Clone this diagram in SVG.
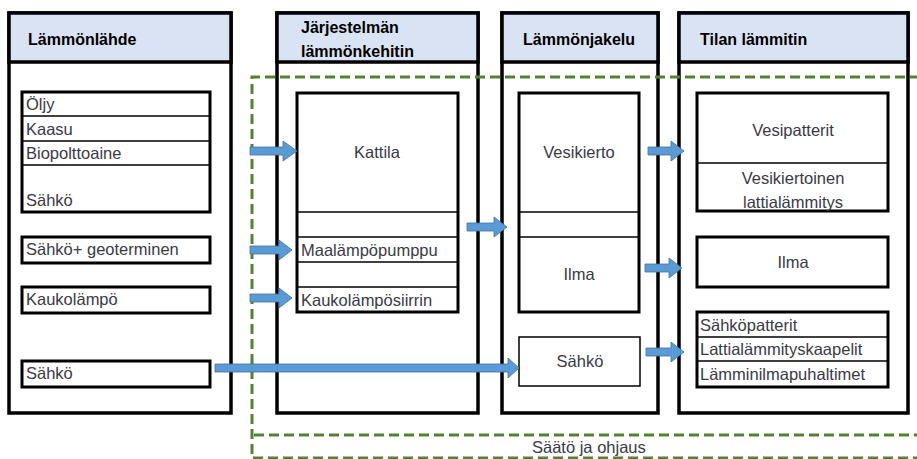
<svg xmlns="http://www.w3.org/2000/svg" width="917" height="459" viewBox="0 0 917 459">
<defs>
<style>
.col{fill:#ffffff;stroke:#000;stroke-width:3.5}
.hdr{fill:#dae3f3;stroke:#000;stroke-width:3.5}
.box{fill:#ffffff;stroke:#000;stroke-width:3}
.thin{fill:#ffffff;stroke:#000;stroke-width:1.5}
.div{stroke:#000;stroke-width:1.5;fill:none}
.h{font-family:"Liberation Sans",Arial,sans-serif;font-weight:bold;font-size:16px;fill:#000}
.t{font-family:"Liberation Sans",Arial,sans-serif;font-size:16.5px;fill:#3a3a44}
.c{text-anchor:middle}
.green{fill:none;stroke:#548235;stroke-width:3;stroke-dasharray:10 5}
.arr{fill:#5b9bd5;stroke:#41719c;stroke-width:0.8}
</style>
</defs>
<rect x="0" y="0" width="917" height="459" fill="#ffffff"/>

<g id="col1">
<rect class="col" x="9" y="13" width="222" height="400"/>
<rect class="hdr" x="9" y="13" width="222" height="49"/>
<text class="h" x="28" y="45">Lämmönlähde</text>
</g>
<g id="col2">
<rect class="col" x="277" y="13" width="201" height="400"/>
<rect class="hdr" x="277" y="13" width="201" height="49"/>
<text class="h" x="301" y="33">Järjestelmän</text>
<text class="h" x="301" y="57">lämmönkehitin</text>
</g>
<g id="col3">
<rect class="col" x="502" y="13" width="156" height="400"/>
<rect class="hdr" x="502" y="13" width="156" height="49"/>
<text class="h" x="523" y="45">Lämmönjakelu</text>
</g>
<g id="col4">
<rect class="col" x="679" y="13" width="229" height="400"/>
<rect class="hdr" x="679" y="13" width="229" height="49"/>
<text class="h" x="700" y="45">Tilan lämmitin</text>
</g>

<g id="fuels">
<rect class="box" x="22" y="92" width="188" height="120"/>
<line class="div" x1="22" y1="116" x2="210" y2="116"/>
<line class="div" x1="22" y1="141" x2="210" y2="141"/>
<line class="div" x1="22" y1="165" x2="210" y2="165"/>
<text class="t" x="26" y="110">Öljy</text>
<text class="t" x="26" y="135">Kaasu</text>
<text class="t" x="26" y="159">Biopolttoaine</text>
<text class="t" x="26" y="206">Sähkö</text>
</g>
<g id="geo">
<rect class="box" x="22" y="237" width="188" height="26"/>
<text class="t" x="26" y="255">Sähkö+ geoterminen</text>
</g>
<g id="kauko">
<rect class="box" x="22" y="287" width="188" height="26"/>
<text class="t" x="26" y="305">Kaukolämpö</text>
</g>
<g id="sahko1">
<rect class="box" x="22" y="361" width="188" height="26"/>
<text class="t" x="26" y="379">Sähkö</text>
</g>

<g id="generators">
<rect class="box" x="297" y="93" width="161" height="219"/>
<line class="div" x1="297" y1="212" x2="458" y2="212"/>
<line class="div" x1="297" y1="237" x2="458" y2="237"/>
<line class="div" x1="297" y1="262" x2="458" y2="262"/>
<line class="div" x1="297" y1="287" x2="458" y2="287"/>
<text class="t c" x="377" y="158">Kattila</text>
<text class="t" x="301" y="256">Maalämpöpumppu</text>
<text class="t" x="301" y="306">Kaukolämpösiirrin</text>
</g>

<g id="distribution">
<rect class="box" x="519" y="93" width="120" height="219"/>
<line class="div" x1="519" y1="212" x2="639" y2="212"/>
<line class="div" x1="519" y1="237" x2="639" y2="237"/>
<text class="t c" x="579" y="158">Vesikierto</text>
<text class="t c" x="579" y="280">Ilma</text>
</g>
<g id="sahko3">
<rect class="thin" x="519" y="337" width="121" height="49"/>
<text class="t c" x="580" y="367">Sähkö</text>
</g>

<g id="water-heaters">
<rect class="box" x="697" y="93" width="191" height="118"/>
<line class="div" x1="697" y1="163" x2="888" y2="163"/>
<text class="t c" x="793" y="136">Vesipatterit</text>
<text class="t c" x="793" y="184">Vesikiertoinen</text>
<text class="t c" x="793" y="208">lattialämmitys</text>
</g>
<g id="air-heater">
<rect class="box" x="697" y="237" width="191" height="50"/>
<text class="t c" x="793" y="268">Ilma</text>
</g>
<g id="electric-heaters">
<rect class="box" x="697" y="312" width="191" height="75"/>
<line class="div" x1="697" y1="337" x2="888" y2="337"/>
<line class="div" x1="697" y1="361" x2="888" y2="361"/>
<text class="t" x="700" y="331">Sähköpatterit</text>
<text class="t" x="700" y="355">Lattialämmityskaapelit</text>
<text class="t" x="700" y="380">Lämminilmapuhaltimet</text>
</g>

<g id="control">
<path class="green" d="M 920 77 L 252 77 L 252 458 L 920 458"/>
<line class="green" x1="254" y1="435" x2="920" y2="435"/>
<text class="t" x="532" y="453">Säätö ja ohjaus</text>
</g>

<g id="connectors">
<polygon class="arr" points="250,147 283,147 283,141 297,151 283,161 283,155 250,155"/>
<polygon class="arr" points="250,246 279,246 279,240 292,250 279,260 279,254 250,254"/>
<polygon class="arr" points="250,294 279,294 279,288 292,298 279,308 279,302 250,302"/>
<polygon class="arr" points="215,364 508,364 508,358 519,368 508,378 508,372 215,372"/>
<polygon class="arr" points="467,223 494,223 494,217 507,227 494,237 494,231 467,231"/>
<polygon class="arr" points="648,147 671,147 671,141 684,151 671,161 671,155 648,155"/>
<polygon class="arr" points="645,264 669,264 669,258 682,268 669,278 669,272 645,272"/>
<polygon class="arr" points="646,348 671,348 671,342 684,352 671,362 671,356 646,356"/>
</g>
</svg>
